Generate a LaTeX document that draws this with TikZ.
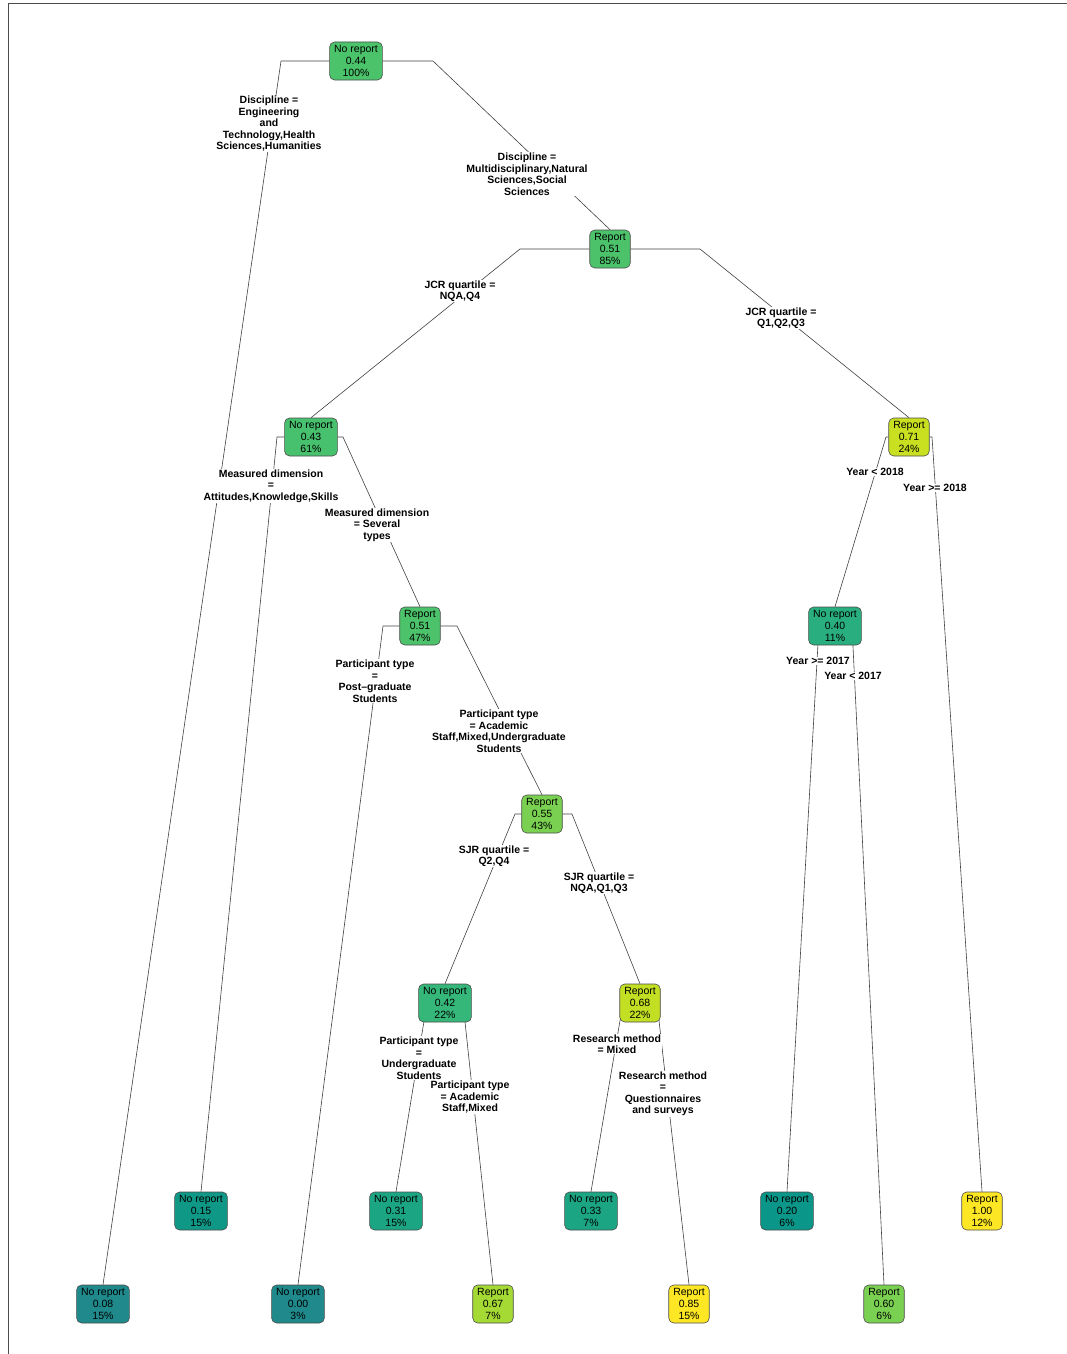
\documentclass[tikz,border=0pt]{standalone}
\usepackage{fontspec}
\setmainfont{Liberation Sans}
\usetikzlibrary{backgrounds}

\definecolor{c044}{HTML}{4BC36B}
\definecolor{c051}{HTML}{4CC26B}
\definecolor{c043}{HTML}{48C16E}
\definecolor{c071}{HTML}{C8E020}
\definecolor{c040}{HTML}{29AF7F}
\definecolor{c055}{HTML}{7AD151}
\definecolor{c042}{HTML}{35B779}
\definecolor{c068}{HTML}{C2DF23}
\definecolor{c008}{HTML}{1F898B}
\definecolor{c015}{HTML}{109886}
\definecolor{c031}{HTML}{1CA583}
\definecolor{c067}{HTML}{A5DA35}
\definecolor{c085}{HTML}{FDE725}
\definecolor{c020}{HTML}{0A9688}
\definecolor{c060}{HTML}{7AD151}

\begin{document}
\begin{tikzpicture}[
        x=1pt, y=-1pt,
        box/.style={draw=black!70, line width=0.6pt, rounded corners=5pt, minimum height=38pt, inner xsep=4.5pt, inner ysep=1.5pt, align=center, font=\fontsize{10.5}{11.6}\selectfont},
        split/.style={fill=white, inner sep=0.6pt, align=center, font=\fontsize{10.5}{11.5}\selectfont\bfseries},
        conn/.style={-, draw=black!75, line width=0.6pt}
    ]
    \useasboundingbox (0,0) rectangle (1067,1354);

    % Frame
    \draw[black!70, line width=1pt] (8,1354) -- (8,4) -- (1067,4);

    % Split nodes
    \node[box, fill=c044] (root) at (356,61) {No report\\0.44\\100\%};
    \node[box, fill=c051] (rep85) at (610,249) {Report\\0.51\\85\%};
    \node[box, fill=c043] (norep61) at (311,437) {No report\\0.43\\61\%};
    \node[box, fill=c071] (rep24) at (909,437) {Report\\0.71\\24\%};
    \node[box, fill=c051] (rep47) at (420,626) {Report\\0.51\\47\%};
    \node[box, fill=c040] (norep11) at (835,626) {No report\\0.40\\11\%};
    \node[box, fill=c055] (rep43) at (542,814) {Report\\0.55\\43\%};
    \node[box, fill=c042] (norep22) at (445,1003) {No report\\0.42\\22\%};
    \node[box, fill=c068] (rep22) at (640,1003) {Report\\0.68\\22\%};

    % Leaves, upper row
    \node[box, fill=c015] (leaf15) at (201,1211) {No report\\0.15\\15\%};
    \node[box, fill=c031] (leaf31) at (396,1211) {No report\\0.31\\15\%};
    \node[box, fill=c031] (leaf33) at (591,1211) {No report\\0.33\\7\%};
    \node[box, fill=c020] (leaf20) at (787,1211) {No report\\0.20\\6\%};
    \node[box, fill=c085] (leaf100) at (982,1211) {Report\\1.00\\12\%};

    % Leaves, lower row
    \node[box, fill=c008] (leaf08) at (103,1304) {No report\\0.08\\15\%};
    \node[box, fill=c008] (leaf00) at (298,1304) {No report\\0.00\\3\%};
    \node[box, fill=c067] (leaf67) at (493,1304) {Report\\0.67\\7\%};
    \node[box, fill=c085] (leaf85) at (689,1304) {Report\\0.85\\15\%};
    \node[box, fill=c060] (leaf60) at (884,1304) {Report\\0.60\\6\%};

    % Corners of the branches
    \coordinate (rootL) at (281,61);
    \coordinate (rootR) at (433,61);
    \coordinate (rep85L) at (520,249);
    \coordinate (rep85R) at (700,249);
    \coordinate (norep61L) at (277,437);
    \coordinate (norep61R) at (343,437);
    \coordinate (rep24L) at (886,437);
    \coordinate (rep24R) at (932,437);
    \coordinate (rep47L) at (383,626);
    \coordinate (rep47R) at (457,626);
    \coordinate (norep11L) at (819,626);
    \coordinate (norep11R) at (852,626);
    \coordinate (rep43L) at (515,814);
    \coordinate (rep43R) at (572,814);
    \coordinate (norep22L) at (427,1003);
    \coordinate (norep22R) at (463,1003);
    \coordinate (rep22L) at (623,1003);
    \coordinate (rep22R) at (657,1003);

    % Branches
    \begin{scope}[on background layer]
        \draw[conn] (root.west) -- (rootL) -- (leaf08.north);
        \draw[conn] (root.east) -- (rootR) -- (rep85.north);
        \draw[conn] (rep85.west) -- (rep85L) -- (norep61.north);
        \draw[conn] (rep85.east) -- (rep85R) -- (rep24.north);
        \draw[conn] (norep61.west) -- (norep61L) -- (leaf15.north);
        \draw[conn] (norep61.east) -- (norep61R) -- (rep47.north);
        \draw[conn] (rep24.west) -- (rep24L) -- (norep11.north);
        \draw[conn] (rep24.east) -- (rep24R) -- (leaf100.north);
        \draw[conn] (rep47.west) -- (rep47L) -- (leaf00.north);
        \draw[conn] (rep47.east) -- (rep47R) -- (rep43.north);
        \draw[conn] (norep11L) -- (leaf20.north);
        \draw[conn] (norep11R) -- (leaf60.north);
        \draw[conn] (rep43.west) -- (rep43L) -- (norep22.north);
        \draw[conn] (rep43.east) -- (rep43R) -- (rep22.north);
        \draw[conn] (norep22L) -- (leaf31.north);
        \draw[conn] (norep22R) -- (leaf67.north);
        \draw[conn] (rep22L) -- (leaf33.north);
        \draw[conn] (rep22R) -- (leaf85.north);
    \end{scope}

    % Split labels
    \node[split] (sRootL) at (269,124) {Discipline =\\Engineering\\and\\Technology,Health\\Sciences,Humanities};
    \node[split] (sRootR) at (527,174) {Discipline =\\Multidisciplinary,Natural\\Sciences,Social\\Sciences};
    \node[split] (sRep85L) at (460,291) {JCR quartile =\\NQA,Q4};
    \node[split] (sRep85R) at (781,318) {JCR quartile =\\Q1,Q2,Q3};
    \node[split] (sNorep61L) at (271,486) {Measured dimension\\=\\Attitudes,Knowledge,Skills};
    \node[split] (sNorep61R) at (377,525) {Measured dimension\\= Several\\types};
    \node[split] (sRep24L) at (875,472) {Year < 2018};
    \node[split] (sRep24R) at (935,488) {Year >= 2018};
    \node[split] (sRep47L) at (375,681) {Participant type\\=\\Post–graduate\\Students};
    \node[split] (sRep47R) at (499,731) {Participant type\\= Academic\\Staff,Mixed,Undergraduate\\Students};
    \node[split] (sNorep11L) at (818,661) {Year >= 2017};
    \node[split] (sNorep11R) at (853,676) {Year < 2017};
    \node[split] (sRep43L) at (494,856) {SJR quartile =\\Q2,Q4};
    \node[split] (sRep43R) at (599,883) {SJR quartile =\\NQA,Q1,Q3};
    \node[split] (sNorep22L) at (419,1058) {Participant type\\=\\Undergraduate\\Students};
    \node[split] (sNorep22R) at (470,1097) {Participant type\\= Academic\\Staff,Mixed};
    \node[split] (sRep22L) at (617,1044) {Research method\\= Mixed};
    \node[split] (sRep22R) at (663,1094) {Research method\\=\\Questionnaires\\and surveys};

\end{tikzpicture}
\end{document}
